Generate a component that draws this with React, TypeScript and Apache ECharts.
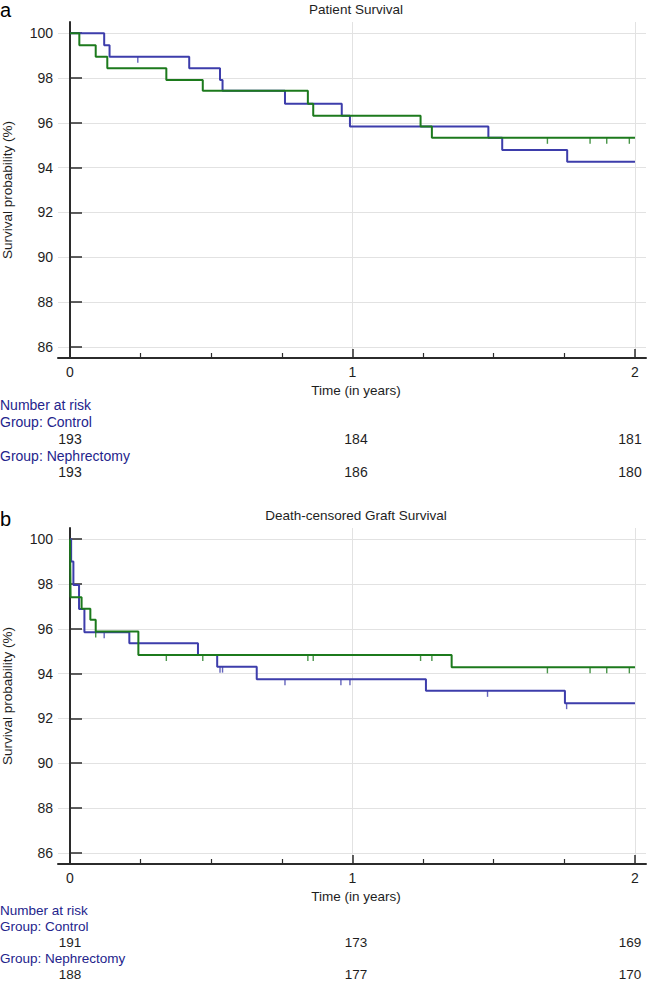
import React, { useEffect, useRef } from "react";
import * as echarts from "echarts";

// ---------- data ----------
const xTickValues = [0, 1, 2];
const xMinorTickValues = [0.25, 0.5, 0.75, 1.25, 1.5, 1.75];
const yTickValues = [86, 88, 90, 92, 94, 96, 98, 100];

// Panel a: Patient Survival  [time (years), survival %]
const patientNephrectomy: [number, number][] = [
  [0, 100], [0.121, 99.46], [0.14, 98.95], [0.422, 98.43], [0.531, 97.91], [0.54, 97.43],
  [0.761, 96.85], [0.962, 96.32], [0.991, 95.83], [1.481, 95.33], [1.53, 94.79], [1.76, 94.26], [2.0, 94.26],
];
const patientControl: [number, number][] = [
  [0, 100], [0.033, 99.46], [0.091, 98.95], [0.132, 98.43], [0.341, 97.91], [0.47, 97.43],
  [0.842, 96.85], [0.861, 96.32], [1.241, 95.83], [1.281, 95.33], [2.0, 95.33],
];
const patientNephrectomyCensored = [0.24];
const patientControlCensored = [1.69, 1.841, 1.9, 1.98];

// Panel b: Death-censored Graft Survival
const graftNephrectomy: [number, number][] = [
  [0, 100], [0.004, 99.0], [0.012, 97.96], [0.032, 96.88], [0.051, 95.85], [0.21, 95.36],
  [0.453, 94.83], [0.521, 94.31], [0.661, 93.75], [1.26, 93.23], [1.752, 92.68], [2.0, 92.68],
];
const graftControl: [number, number][] = [
  [0, 100], [0.002, 97.41], [0.041, 96.9], [0.072, 96.4], [0.091, 95.88], [0.242, 94.83],
  [1.351, 94.28], [2.0, 94.28],
];
const graftNephrectomyCensored = [0.121, 0.531, 0.54, 0.761, 0.959, 0.991, 1.478, 1.758];
const graftControlCensored = [0.091, 0.341, 0.47, 0.842, 0.861, 1.241, 1.281, 1.69, 1.841, 1.9, 1.98];

// Number at risk
const patientRiskControl = [193, 184, 181];
const patientRiskNephrectomy = [193, 186, 180];
const graftRiskControl = [191, 173, 169];
const graftRiskNephrectomy = [188, 177, 170];

const panelLetters = ["a", "b"];
const panelTitles = ["Patient Survival", "Death-censored Graft Survival"];
const xAxisTitle = "Time (in years)";
const yAxisTitle = "Survival probability (%)";
const riskHeader = "Number at risk";
const groupLabels = ["Group: Control", "Group: Nephrectomy"];

// ---------- styles / layout ----------
const FONT = '"Liberation Sans", Arial, Helvetica, sans-serif';
const BLUE = "#3d3dab";
const GREEN = "#1c7a1c";
const AXIS = "#2b2b2b";
const GRIDC = "#e2e2e2";
const NAVY = "#24248c";
const TXT = "#1e1e1e";
const W = 649;
const H = 983;
const PANEL_OFFSET = 506;
const GRID_LEFT = 58;
const GRID_RIGHT = 3;
const GRID_TOP = 22;
const GRID_HEIGHT = 336;
const riskX = [70, 356, 630];
const riskRowYs = [
  [405, 422, 439, 456, 472],
  [910, 926, 942, 958, 974],
];
const riskFont = [14, 13.5];

function valueAt(curve: [number, number][], t: number): number {
  let v = curve[0][1];
  for (const [x, y] of curve) {
    if (x <= t) v = y;
  }
  return v;
}

function censorPoints(curve: [number, number][], times: number[]) {
  return times.map((t) => [t, valueAt(curve, t)]);
}

export default function App() {
  const ref = useRef<HTMLDivElement>(null);

  useEffect(() => {
    document.body.style.margin = "0";
    if (!ref.current) return;
    const chart = echarts.init(ref.current, undefined, { renderer: "svg" });

    const grids: any[] = [];
    const xAxes: any[] = [];
    const yAxes: any[] = [];
    const series: any[] = [];
    const graphics: any[] = [];

    const panels = [
      {
        blue: patientNephrectomy, green: patientControl,
        blueC: patientNephrectomyCensored, greenC: patientControlCensored,
        riskC: patientRiskControl, riskN: patientRiskNephrectomy,
      },
      {
        blue: graftNephrectomy, green: graftControl,
        blueC: graftNephrectomyCensored, greenC: graftControlCensored,
        riskC: graftRiskControl, riskN: graftRiskNephrectomy,
      },
    ];

    panels.forEach((p, i) => {
      const off = i * PANEL_OFFSET;
      const rows = riskRowYs[i];
      const rf = riskFont[i];
      grids.push({ left: GRID_LEFT, right: GRID_RIGHT, top: GRID_TOP + off, height: GRID_HEIGHT });
      // main x axis
      xAxes.push({
        gridIndex: i, type: "value", min: -0.0425, max: 2.039, position: "bottom",
        axisLine: { show: true, onZero: false, lineStyle: { color: AXIS, width: 2 } },
        axisTick: { show: true, inside: true, length: 9, customValues: xTickValues, lineStyle: { color: AXIS, width: 1.5 } },
        axisLabel: { show: true, customValues: xTickValues, margin: 7, fontSize: 14, color: TXT, fontFamily: FONT },
        splitLine: { show: true, lineStyle: { color: GRIDC, width: 1 } },
      });
      // minor ticks x axis
      xAxes.push({
        gridIndex: i, type: "value", min: -0.0425, max: 2.039, position: "bottom",
        axisLine: { show: false, onZero: false },
        axisTick: { show: true, inside: true, length: 5, customValues: xMinorTickValues, lineStyle: { color: AXIS, width: 1.2 } },
        axisLabel: { show: false },
        splitLine: { show: false },
      });
      yAxes.push({
        gridIndex: i, type: "value", min: 85.5, max: 100.5,
        axisLine: { show: true, lineStyle: { color: AXIS, width: 2 } },
        axisTick: { show: true, inside: true, length: 12, customValues: yTickValues, lineStyle: { color: AXIS, width: 1.5 } },
        axisLabel: { show: true, customValues: yTickValues, margin: 5, fontSize: 14, color: TXT, fontFamily: FONT },
        splitLine: { show: true, lineStyle: { color: GRIDC, width: 1 } },
      });
      const xi = i * 2;
      series.push({
        type: "line", xAxisIndex: xi, yAxisIndex: i, step: "end", data: p.blue, showSymbol: false,
        lineStyle: { color: BLUE, width: 2 }, z: 3,
      });
      series.push({
        type: "line", xAxisIndex: xi, yAxisIndex: i, step: "end", data: p.green, showSymbol: false,
        lineStyle: { color: GREEN, width: 2 }, z: 4,
      });
      series.push({
        type: "scatter", xAxisIndex: xi, yAxisIndex: i, data: censorPoints(p.blue, p.blueC),
        symbol: "rect", symbolSize: [1.4, 6], symbolOffset: [0, 3], itemStyle: { color: BLUE }, z: 3,
      });
      series.push({
        type: "scatter", xAxisIndex: xi, yAxisIndex: i, data: censorPoints(p.green, p.greenC),
        symbol: "rect", symbolSize: [1.4, 6], symbolOffset: [0, 3], itemStyle: { color: GREEN }, z: 4,
      });

      // texts
      const t = (text: string, x: number, y: number, opts: any = {}) => ({
        type: "text", x, y, rotation: opts.rotation || 0, z: 10,
        style: {
          text, fill: opts.fill || TXT, fontSize: opts.fontSize || 14, fontFamily: FONT,
          textAlign: opts.align || "left", textVerticalAlign: "middle",
        },
      });
      graphics.push(t(panelLetters[i], 0, 10 + off + (i === 1 ? 3 : 0), { fontSize: 20, fill: "#000" }));
      graphics.push(t(panelTitles[i], 356, 9.5 + off, { align: "center", fontSize: 13.5 }));
      graphics.push(t(yAxisTitle, 7.5, 190 + off, { align: "center", rotation: Math.PI / 2, fontSize: 13.5 }));
      graphics.push(t(xAxisTitle, 356, 390 + off, { align: "center", fontSize: 13.5 }));
      graphics.push(t(riskHeader, 0, rows[0], { fill: NAVY, fontSize: rf }));
      graphics.push(t(groupLabels[0], 0, rows[1], { fill: NAVY, fontSize: rf }));
      p.riskC.forEach((n, k) => graphics.push(t(String(n), riskX[k], rows[2], { align: "center", fontSize: rf })));
      graphics.push(t(groupLabels[1], 0, rows[3], { fill: NAVY, fontSize: rf }));
      p.riskN.forEach((n, k) => graphics.push(t(String(n), riskX[k], rows[4], { align: "center", fontSize: rf })));
    });

    chart.setOption({
      animation: false,
      backgroundColor: "#fff",
      grid: grids,
      xAxis: xAxes,
      yAxis: yAxes,
      series,
      graphic: graphics,
    });

    return () => chart.dispose();
  }, []);

  return <div ref={ref} style={{ width: W, height: H }} />;
}
